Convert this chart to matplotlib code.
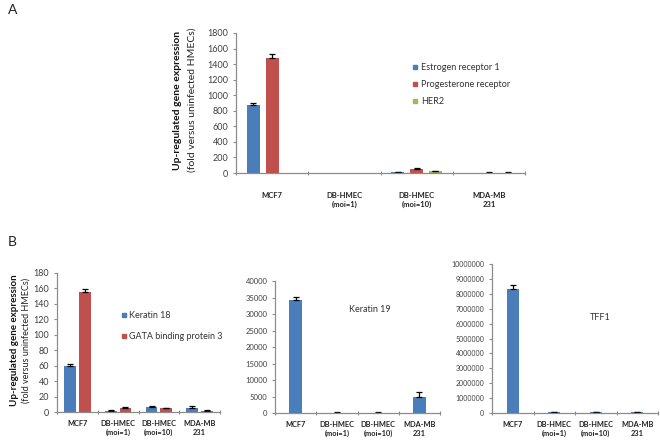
import matplotlib
matplotlib.use("Agg")
import matplotlib.pyplot as plt
import numpy as np

plt.rcParams['font.family'] = ['Lato', 'DejaVu Sans']

categories = ['MCF7', 'DB-HMEC\n(moi=1)', 'DB-HMEC\n(moi=10)', 'MDA-MB\n231']

# Panel A
er1 = [870, 0, 12, 0]
er1_err = [30, 0, 5, 0]
pr = [1480, 0, 55, 5]
pr_err = [50, 0, 8, 5]
her2 = [0, 0, 20, 4]
her2_err = [0, 0, 5, 4]

# Panel B1
k18 = [59, 1.5, 6.5, 5.5]
k18_err = [3, 0.5, 1, 2]
gata = [155, 5.5, 5, 1.5]
gata_err = [4, 0.7, 0.7, 0.5]

# Panel B2
k19 = [34300, 150, 150, 4700]
k19_err = [1000, 50, 50, 1600]

# Panel B3
tff1 = [8300000, 50000, 50000, 60000]
tff1_err = [300000, 10000, 10000, 10000]

BLUE = '#4a7ebb'
RED = '#c0504d'
GREEN = '#9bbb59'
AXC = '#8c8c8c'
TXC = '#404040'

fig = plt.figure(figsize=(6.6, 4.44), dpi=100)


def style(ax, ymax, ystep, tfs, cfs, pad):
    x = np.arange(len(categories))
    ax.set_xlim(-0.5, len(categories) - 0.5)
    ax.set_ylim(0, ymax)
    ax.set_yticks(np.arange(0, ymax + ystep / 2, ystep))
    ax.set_xticks(x)
    ax.set_xticklabels(categories, fontsize=cfs, fontweight='bold', color='#222222',
                       linespacing=1.3, va='top')
    ax.set_xticks(np.arange(-0.5, len(categories)), minor=True)
    ax.tick_params(axis='x', which='major', length=0, pad=pad)
    ax.tick_params(axis='x', which='minor', length=3, width=0.8, color=AXC, direction='inout')
    ax.tick_params(axis='y', labelsize=tfs, length=2.5, width=0.8, color=AXC,
                   labelcolor=TXC, pad=3)
    for s in ['top', 'right']:
        ax.spines[s].set_visible(False)
    for s in ['left', 'bottom']:
        ax.spines[s].set_color(AXC)
        ax.spines[s].set_linewidth(0.9)
    ax.yaxis.get_major_formatter().set_scientific(False)
    ax.yaxis.get_major_formatter().set_useOffset(False)


def bars(ax, offs, vals, errs, color, width):
    x = np.arange(len(categories)) + offs
    v = np.array(vals, dtype=float)
    e = np.array(errs, dtype=float)
    ax.bar(x, v, width=width, color=color, linewidth=0)
    m = e > 0
    if m.any():
        ax.errorbar(x[m], v[m], yerr=[np.zeros(m.sum()), e[m]], fmt='none',
                    ecolor='black', elinewidth=0.9, capthick=0.9, capsize=2.2)


# ---------- Panel A ----------
axA = fig.add_axes([236 / 660, 1 - 173 / 444, 289 / 660, 140 / 444])
bars(axA, -0.26, er1, er1_err, BLUE, 0.18)
bars(axA, 0.0, pr, pr_err, RED, 0.18)
bars(axA, 0.26, her2, her2_err, GREEN, 0.18)
style(axA, 1800, 200, 6.5, 5.5, 14)

for i, (lab, col) in enumerate([('Estrogen receptor 1', BLUE),
                                 ('Progesterone receptor', RED),
                                 ('HER2', GREEN)]):
    yy = 1 - (67 + 17 * i) / 444
    fig.patches.append(plt.Rectangle((413 / 660, yy - 2 / 444), 4 / 660, 4 / 444,
                                     transform=fig.transFigure, color=col))
    fig.text(421 / 660, yy, lab, fontsize=6.5, color='#333333', va='center', ha='left')

fig.text(178 / 660, 1 - 100 / 444, 'Up-regulated gene expression', rotation=90,
         fontsize=7.5, fontweight='bold', ha='center', va='center', color='#111111')
fig.text(192 / 660, 1 - 100 / 444, '(fold versus uninfected HMECs)', rotation=90,
         fontsize=7.5, ha='center', va='center', color='#222222')
fig.text(8 / 660, 1 - 10 / 444, 'A', fontsize=10, ha='left', va='center', color='#222222')

# ---------- Panel B1 ----------
axB1 = fig.add_axes([57 / 660, 1 - 412 / 444, 163 / 660, 139 / 444])
bars(axB1, -0.18, k18, k18_err, BLUE, 0.29)
bars(axB1, 0.18, gata, gata_err, RED, 0.29)
style(axB1, 180, 20, 6.5, 5.3, 6)

for i, (lab, col) in enumerate([('Keratin 18', BLUE), ('GATA binding protein 3', RED)]):
    yy = 1 - (315 + 21 * i) / 444
    fig.patches.append(plt.Rectangle((122 / 660, yy - 2 / 444), 4 / 660, 4 / 444,
                                     transform=fig.transFigure, color=col))
    fig.text(129 / 660, yy, lab, fontsize=6.5, color='#333333', va='center', ha='left')

fig.text(15 / 660, 1 - 340 / 444, 'Up-regulated gene expression', rotation=90,
         fontsize=7, fontweight='bold', ha='center', va='center', color='#111111')
fig.text(26 / 660, 1 - 340 / 444, '(fold versus uninfected HMECs)', rotation=90,
         fontsize=6.5, ha='center', va='center', color='#222222')
fig.text(8 / 660, 1 - 242 / 444, 'B', fontsize=10, ha='left', va='center', color='#222222')

# ---------- Panel B2 ----------
axB2 = fig.add_axes([275 / 660, 1 - 413 / 444, 165 / 660, 132 / 444])
bars(axB2, 0.0, k19, k19_err, BLUE, 0.3)
style(axB2, 40000, 5000, 5.5, 5.3, 6)
fig.text(370 / 660, 1 - 310 / 444, 'Keratin 19', fontsize=6.5, ha='center', va='center',
         color='#333333')

# ---------- Panel B3 ----------
axB3 = fig.add_axes([492 / 660, 1 - 413 / 444, 166 / 660, 149 / 444])
bars(axB3, 0.0, tff1, tff1_err, BLUE, 0.3)
style(axB3, 10000000, 1000000, 5, 5.3, 6)
fig.text(600 / 660, 1 - 317 / 444, 'TFF1', fontsize=6.5, ha='center', va='center',
         color='#333333')

fig.savefig('out.png', dpi=100)
